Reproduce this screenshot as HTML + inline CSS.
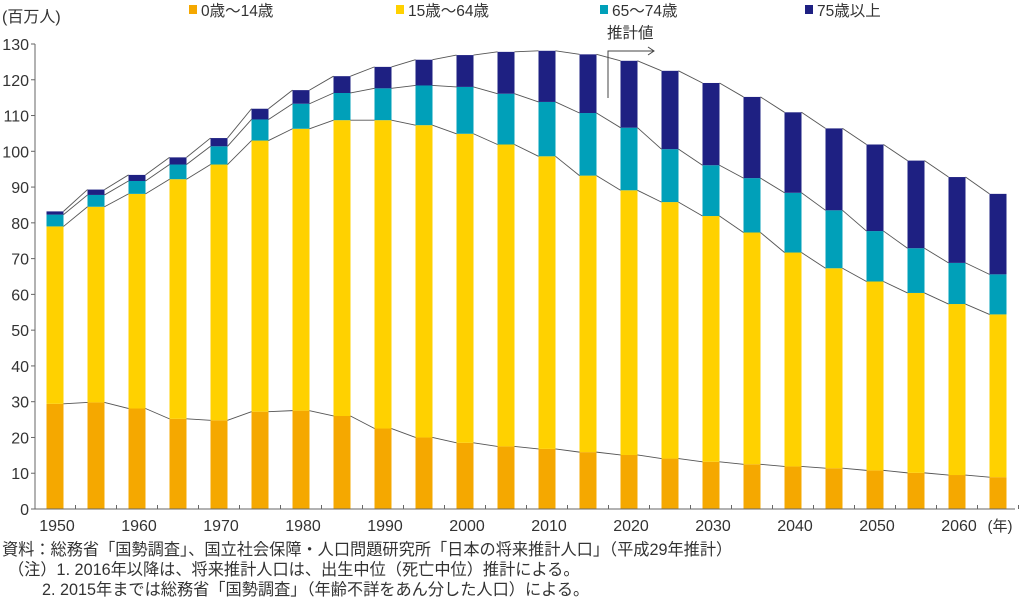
<!DOCTYPE html>
<html><head><meta charset="utf-8"><style>
body{margin:0;background:#fff;}
svg{display:block;font-family:"Liberation Sans","Noto Sans CJK JP",sans-serif;}
</style></head><body>
<svg id="s" width="1024" height="603" xmlns="http://www.w3.org/2000/svg"></svg>
<script>
const d=[[29.4,79.0,82.3,83.2],[29.8,84.5,87.8,89.3],[28.1,88.1,91.7,93.4],[25.2,92.2,96.3,98.3],[24.8,96.3,101.4,103.7],[27.2,103.0,108.9,111.9],[27.5,106.3,113.3,117.1],[26.0,108.7,116.3,121.0],[22.5,108.7,117.6,123.6],[20.0,107.3,118.4,125.6],[18.5,104.9,118.0,126.9],[17.5,101.9,116.1,127.8],[16.8,98.6,113.8,128.1],[15.9,93.2,110.7,127.1],[15.1,89.1,106.6,125.3],[14.1,85.8,100.6,122.5],[13.2,81.9,96.1,119.1],[12.5,77.3,92.5,115.2],[11.9,71.7,88.4,110.9],[11.4,67.3,83.5,106.4],[10.8,63.6,77.7,101.9],[10.1,60.4,72.9,97.4],[9.5,57.3,68.8,92.8],[8.9,54.4,65.6,88.1]];
const C=["#f5a800","#ffd100","#00a0b9","#1e2082"];
const Y=v=>509-v*3.577, X=i=>55+i*41, W=17;
let h="";
d.forEach((r,i)=>{let p=0;r.forEach((v,k)=>{h+=`<rect x="${X(i)-W/2}" y="${Y(v)}" width="${W}" height="${Y(p)-Y(v)}" fill="${C[k]}"/>`;p=v;});});
for(let k=0;k<4;k++)for(let i=0;i<23;i++)h+=`<line x1="${X(i)+W/2}" y1="${Y(d[i][k])}" x2="${X(i+1)-W/2}" y2="${Y(d[i+1][k])}" stroke="#555" stroke-width="0.9"/>`;
h+=`<line x1="35" y1="44" x2="35" y2="509" stroke="#666"/><line x1="35" y1="509" x2="1015" y2="509" stroke="#666"/>`;
for(let v=0;v<=130;v+=10){h+=`<line x1="31" y1="${Y(v)}" x2="35" y2="${Y(v)}" stroke="#666"/><text x="29" y="${Y(v)+6}" font-size="16" text-anchor="end" fill="#333">${v}</text>`;}
for(let i=0;i<24;i++)h+=`<line x1="${X(i)+20.5}" y1="505" x2="${X(i)+20.5}" y2="509" stroke="#666"/>`;
for(let i=0;i<24;i+=2)h+=`<text x="${X(i)+2}" y="531" font-size="16" text-anchor="middle" fill="#333">${1950+i*5}</text>`;
h+=`<text x="1000" y="531" font-size="15" text-anchor="middle" fill="#333">(年)</text>`;
h+=`<text x="2" y="22" font-size="16" fill="#333">(百万人)</text>`;
const L=[[189,"0歳～14歳"],[396,"15歳～64歳"],[600,"65～74歳"],[805,"75歳以上"]];
L.forEach((l,k)=>{h+=`<rect x="${l[0]}" y="5" width="8" height="9" fill="${C[k]}"/><text x="${l[0]+12}" y="16" font-size="15.5" fill="#333">${l[1]}</text>`;});
h+=`<text x="607" y="38" font-size="15.5" fill="#333">推計値</text><polyline points="608,98 608,51 654,51" fill="none" stroke="#444"/><polyline points="648,47 654,51 648,55" fill="none" stroke="#444"/>`;
const F=[[2,555,"資料：総務省「国勢調査」、国立社会保障・人口問題研究所「日本の将来推計人口」（平成29年推計）"],[8,575,"（注）1. 2016年以降は、将来推計人口は、出生中位（死亡中位）推計による。"],[42,595,"2. 2015年までは総務省「国勢調査」（年齢不詳をあん分した人口）による。"]];
F.forEach(f=>h+=`<text x="${f[0]}" y="${f[1]}" font-size="16.2" fill="#333">${f[2]}</text>`);
document.getElementById("s").innerHTML=h;
</script>
</body></html>
